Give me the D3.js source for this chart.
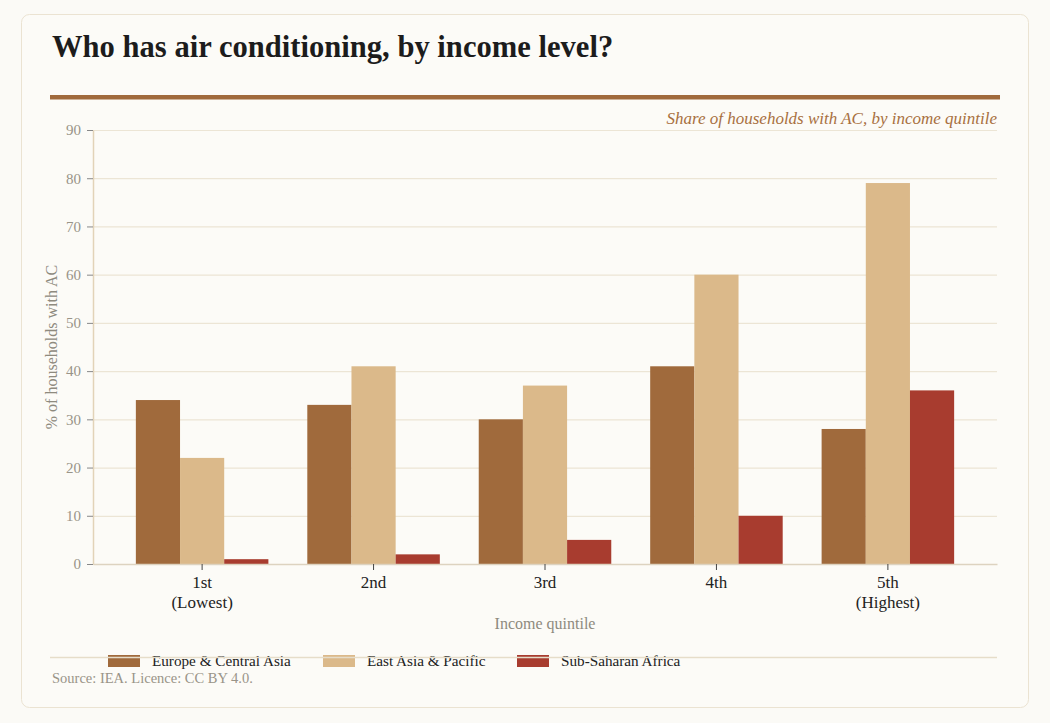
<!DOCTYPE html>
<html>
<head>
<meta charset="utf-8">
<script src="https://cdn.jsdelivr.net/npm/d3@7"></script>
<style>
  body { margin: 0; background: #fbfaf6; }
  svg { display: block; font-family: "Liberation Serif", serif; }
</style>
</head>
<body>
<div id="chart"></div>
<script>
// DATA
const quintiles = ["1st|(Lowest)", "2nd", "3rd", "4th", "5th|(Highest)"];
const regions = ["Europe & Central Asia", "East Asia & Pacific", "Sub-Saharan Africa"];
const europe = [34, 33, 30, 41, 28];
const eastAsia = [22, 41, 37, 60, 79];
const subSaharan = [1, 2, 5, 10, 36];
const yTicks = [0, 10, 20, 30, 40, 50, 60, 70, 80, 90];

const colors = ["#a06a3c", "#dbb98a", "#a83c2f"];
const series = [europe, eastAsia, subSaharan];

const W = 1050, H = 723;
const margin = {top: 130, right: 53, bottom: 159, left: 93};

const svg = d3.select("#chart").append("svg")
    .attr("width", W)
    .attr("height", H);

// card
svg.append("rect")
    .attr("x", 21.5).attr("y", 14.5)
    .attr("width", 1007).attr("height", 693)
    .attr("rx", 8)
    .attr("fill", "#fcfbf7")
    .attr("stroke", "#ebe3d2");

svg.append("text")
    .attr("x", 52).attr("y", 57)
    .attr("font-size", 30.6).attr("font-weight", "bold")
    .attr("fill", "#1c1c1c")
    .text("Who has air conditioning, by income level?");

svg.append("rect")
    .attr("x", 50).attr("y", 95)
    .attr("width", 950).attr("height", 4.5)
    .attr("fill", "#a06a3c");

svg.append("text")
    .attr("x", 997).attr("y", 124)
    .attr("text-anchor", "end")
    .attr("font-size", 17).attr("font-style", "italic")
    .attr("fill", "#a8703f")
    .text("Share of households with AC, by income quintile");

// SCALES
const x0 = d3.scaleBand()
    .domain(quintiles)
    .range([margin.left, W - margin.right])
    .paddingInner(0.227)
    .paddingOuter(0.25);

const x1 = d3.scaleBand()
    .domain(d3.range(regions.length))
    .range([0, x0.bandwidth()]);

const y = d3.scaleLinear()
    .domain([0, 90])
    .range([H - margin.bottom, margin.top]);

// gridlines
svg.append("g")
    .selectAll("line")
    .data(yTicks)
    .join("line")
    .attr("x1", margin.left).attr("x2", W - margin.right)
    .attr("y1", d => y(d) + 0.5).attr("y2", d => y(d) + 0.5)
    .attr("stroke", "#ece5d5")
    .attr("stroke-width", 1.2);

// bars
const groups = svg.append("g")
    .selectAll("g")
    .data(quintiles)
    .join("g")
    .attr("transform", d => `translate(${x0(d)},0)`);

groups.selectAll("rect")
    .data((d, i) => series.map((s, j) => ({j, v: s[i]})))
    .join("rect")
    .attr("x", d => x1(d.j))
    .attr("width", x1.bandwidth())
    .attr("y", d => y(d.v))
    .attr("height", d => y(0) - y(d.v))
    .attr("fill", d => colors[d.j]);

// y axis
const yAxis = svg.append("g")
    .attr("transform", `translate(${margin.left},0)`)
    .call(d3.axisLeft(y).tickValues(yTicks).tickSize(6).tickSizeOuter(0).tickPadding(6));
yAxis.select(".domain").attr("stroke", "#e2d3b8").attr("stroke-width", 1.5);
yAxis.selectAll(".tick line").attr("stroke", "#888");
yAxis.selectAll(".tick text")
    .attr("fill", "#999488")
    .attr("font-size", 15)
    .attr("font-family", "Liberation Serif, serif");

// x axis
const xAxis = svg.append("g")
    .attr("transform", `translate(0,${y(0)})`)
    .call(d3.axisBottom(x0).tickSize(6).tickSizeOuter(0).tickPadding(4).tickFormat(""));
xAxis.select(".domain").attr("stroke", "#ddd3c0").attr("stroke-width", 1.5);
xAxis.selectAll(".tick line").attr("stroke", "#444");
xAxis.selectAll(".tick").append("text")
    .attr("fill", "#222")
    .attr("font-size", 17)
    .attr("font-family", "Liberation Serif, serif")
    .attr("text-anchor", "middle")
    .selectAll("tspan")
    .data(d => d.split("|"))
    .join("tspan")
    .attr("x", 0)
    .attr("y", (d, i) => 24 + i * 20)
    .text(d => d);

svg.append("text")
    .attr("transform", `translate(57,${(y(0) + y(90)) / 2}) rotate(-90)`)
    .attr("text-anchor", "middle")
    .attr("font-size", 16)
    .attr("fill", "#8e8a7e")
    .text("% of households with AC");

svg.append("text")
    .attr("x", (margin.left + W - margin.right) / 2).attr("y", 629)
    .attr("text-anchor", "middle")
    .attr("font-size", 16)
    .attr("fill", "#8e8a7e")
    .text("Income quintile");

// legend
const legendX = [108, 323, 517];
const legend = svg.append("g")
    .selectAll("g")
    .data(regions)
    .join("g")
    .attr("transform", (d, i) => `translate(${legendX[i]},655)`);
legend.append("rect")
    .attr("width", 32).attr("height", 12)
    .attr("fill", (d, i) => colors[i]);
legend.append("text")
    .attr("x", 44).attr("y", 11)
    .attr("font-size", 15.2)
    .attr("fill", "#222")
    .text(d => d);

svg.append("line")
    .attr("x1", 50).attr("x2", 997)
    .attr("y1", 657.5).attr("y2", 657.5)
    .attr("stroke", "#e6ddc9")
    .attr("stroke-width", 1.5);

svg.append("text")
    .attr("x", 52).attr("y", 683)
    .attr("font-size", 14.5)
    .attr("fill", "#999488")
    .text("Source: IEA. Licence: CC BY 4.0.");
</script>
</body>
</html>
